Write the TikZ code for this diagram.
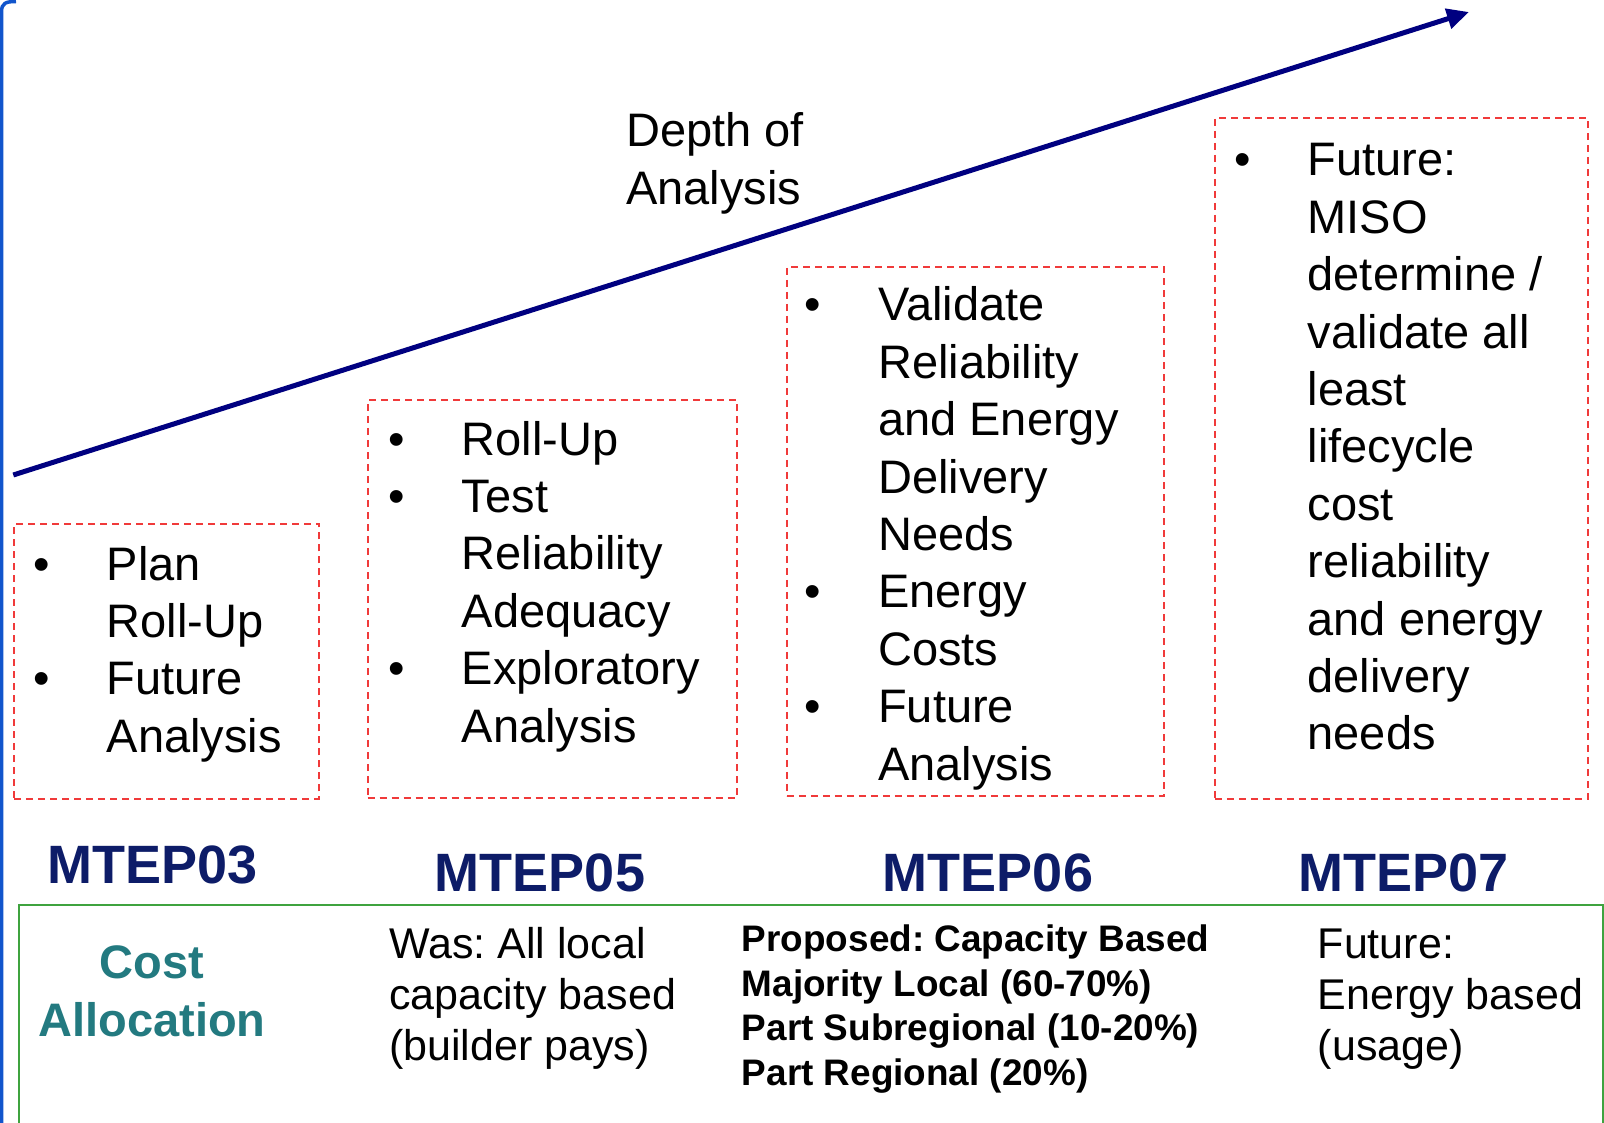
\documentclass[tikz,border=0pt]{standalone}
\usepackage{fontspec}
\setmainfont{Liberation Sans}
\usetikzlibrary{arrows.meta}
\definecolor{navyarrow}{HTML}{000080}
\definecolor{mtepblue}{HTML}{0D1C68}
\definecolor{costteal}{HTML}{237A80}
\definecolor{dashred}{HTML}{F03A3A}
\definecolor{boxgreen}{HTML}{3FA33F}
\definecolor{edgeblue}{HTML}{1155CC}
\frenchspacing
\newcommand\bulA[1]{\hbox{\llap{\hbox to 73.5pt{\textbullet\hfil}}#1}}
\newcommand\lineA[1]{\hbox{#1}}
\newcommand\cenA[1]{\hbox to 300pt{\hfil#1\hfil}}
\newcommand\stackA[1]{\vtop{\lineskiplimit=-60pt\relax #1}}
\begin{document}
\begin{tikzpicture}[x=1pt,y=-1pt,
  dbox/.style={draw=dashred, dash pattern=on 7pt off 5pt, line width=1.8pt, inner sep=0pt, anchor=north west},
  bodytext/.style={inner sep=0pt, anchor=base west, font=\fontsize{47}{57.4}\selectfont},
  lowtext/.style={inner sep=0pt, anchor=base west, font=\fontsize{43}{51}\selectfont},
  proptext/.style={inner sep=0pt, anchor=base west, font=\fontsize{36.9}{44.6}\selectfont\bfseries},
  costtext/.style={inner sep=0pt, anchor=base, text=costteal, font=\fontsize{47}{58.7}\selectfont\bfseries},
  mtep/.style={inner sep=0pt, anchor=base, text=mtepblue, font=\fontsize{54}{60}\selectfont\bfseries}]
\useasboundingbox[fill=white] (0,0) rectangle (1604,1123);

% left blue edge
\draw[edgeblue, line width=3.5pt] (1.5,1130) -- (1.5,12) .. controls (1.5,3) and (6,1.5) .. (16,1.5);

% arrow
\coordinate (arrowstart) at (13.3,475);
\coordinate (arrowend) at (1469,12);
\draw[navyarrow, line width=5pt, -{Triangle[length=22pt,width=20pt]}] (arrowstart) -- (arrowend);

% depth of analysis
\node[bodytext] (depth) at (626,147) {\stackA{\lineA{Depth of}\lineA{Analysis}}};

% dashed boxes
\node[dbox, minimum width=304.7pt, minimum height=275pt] (box1) at (13.3,522.7) {};
\node[dbox, minimum width=369pt, minimum height=398pt] (box2) at (366.7,399.3) {};
\node[dbox, minimum width=377pt, minimum height=529pt] (box3) at (786,266) {};
\node[dbox, minimum width=373pt, minimum height=681pt] (box4) at (1214,117) {};

\node[bodytext] (list1) at (106.7,580) {\stackA{\bulA{Plan}\lineA{Roll-Up}\bulA{Future}\lineA{Analysis}}};
\node[bodytext] (list2) at (461.7,455) {\stackA{\bulA{Roll-Up}\bulA{Test}\lineA{Reliability}\lineA{Adequacy}\bulA{Exploratory}\lineA{Analysis}}};
\node[bodytext] (list3) at (878,321) {\stackA{\bulA{Validate}\lineA{Reliability}\lineA{and Energy}\lineA{Delivery}\lineA{Needs}\bulA{Energy}\lineA{Costs}\bulA{Future}\lineA{Analysis}}};
\node[bodytext] (list4) at (1307.5,176) {\stackA{\bulA{Future:}\lineA{MISO}\lineA{determine /}\lineA{validate all}\lineA{least}\lineA{lifecycle}\lineA{cost}\lineA{reliability}\lineA{and energy}\lineA{delivery}\lineA{needs}}};

% MTEP labels
\node[mtep] (m03) at (152.7,883) {MTEP03};
\node[mtep] (m05) at (540,891) {MTEP05};
\node[mtep] (m06) at (988,891) {MTEP06};
\node[mtep] (m07) at (1403.6,891) {MTEP07};

% green box
\draw[boxgreen, line width=2pt] (18.7,1130) -- (18.7,904.7) -- (1602.7,904.7) -- (1602.7,1130);

% cost allocation row
\node[costtext] (cost) at (152,978) {\stackA{\cenA{Cost}\cenA{Allocation}}};
\node[lowtext] (was) at (389,958.5) {\stackA{\lineA{Was: All local}\lineA{capacity based}\lineA{(builder pays)}}};
\node[proptext] (prop) at (741.7,951.7) {\stackA{\lineA{Proposed: Capacity Based}\lineA{Majority Local (60-70\%)}\lineA{Part Subregional (10-20\%)}\lineA{Part Regional (20\%)}}};
\node[lowtext] (fut) at (1317.6,958.5) {\stackA{\lineA{Future:}\lineA{Energy based}\lineA{(usage)}}};
\end{tikzpicture}
\end{document}
